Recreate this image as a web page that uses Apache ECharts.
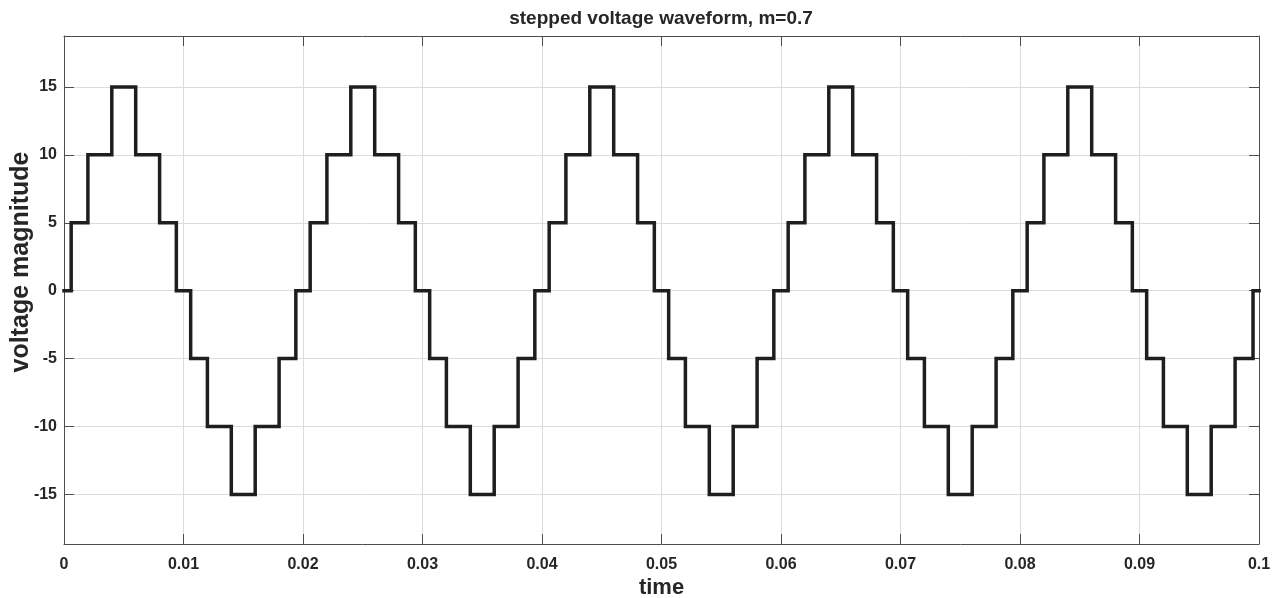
<!DOCTYPE html>
<html>
<head>
<meta charset="utf-8">
<script src="https://cdn.jsdelivr.net/npm/echarts@6/dist/echarts.min.js"></script>
<style>
html,body{margin:0;padding:0;background:#fff;}
#chart{width:1281px;height:598px;}
</style>
</head>
<body>
<div id="chart"></div>
<script>
// Step transition times (s) and the voltage level that starts at each time
const stepTimes = [
  0, 0.0006, 0.002, 0.004, 0.006, 0.008, 0.0094, 0.0106, 0.012, 0.014, 0.016, 0.018, 0.0194,
  0.0206, 0.022, 0.024, 0.026, 0.028, 0.0294, 0.0306, 0.032, 0.034, 0.036, 0.038, 0.0394,
  0.0406, 0.042, 0.044, 0.046, 0.048, 0.0494, 0.0506, 0.052, 0.054, 0.056, 0.058, 0.0594,
  0.0606, 0.062, 0.064, 0.066, 0.068, 0.0694, 0.0706, 0.072, 0.074, 0.076, 0.078, 0.0794,
  0.0806, 0.082, 0.084, 0.086, 0.088, 0.0894, 0.0906, 0.092, 0.094, 0.096, 0.098, 0.0995,
  0.1
];
const stepLevels = [
  0, 5, 10, 15, 10, 5, 0, -5, -10, -15, -10, -5, 0,
  5, 10, 15, 10, 5, 0, -5, -10, -15, -10, -5, 0,
  5, 10, 15, 10, 5, 0, -5, -10, -15, -10, -5, 0,
  5, 10, 15, 10, 5, 0, -5, -10, -15, -10, -5, 0,
  5, 10, 15, 10, 5, 0, -5, -10, -15, -10, -5, 0,
  0
];
const yTicks = [-15, -10, -5, 0, 5, 10, 15];
const xMin = 0, xMax = 0.1, xStep = 0.01;
const yMin = -18.65, yMax = 18.75;

const titleText = 'stepped voltage waveform, m=0.7';
const xName = 'time';
const yName = 'voltage magnitude';

const FONT = '"Liberation Sans", Arial, sans-serif';
const TXT = '#262626';
const AX = '#4d4d4d';
const GRID = '#dcdcdc';

const data = stepTimes.map((t, i) => [t, stepLevels[i]]);

const chart = echarts.init(document.getElementById('chart'), null, {renderer: 'canvas'});
chart.setOption({
  animation: false,
  backgroundColor: '#ffffff',
  title: {
    text: titleText,
    left: 656, top: 4, textAlign: 'center',
    textStyle: {fontFamily: FONT, fontWeight: 'bold', fontSize: 19, color: TXT}
  },
  grid: {left: 64, right: 22, top: 36, bottom: 54, containLabel: false, outerBoundsMode: 'none'},
  xAxis: [{
    type: 'value', min: xMin, max: xMax, interval: xStep, position: 'bottom',
    name: xName, nameLocation: 'middle', nameGap: 33, nameMoveOverlap: false,
    nameTextStyle: {fontFamily: FONT, fontWeight: 'bold', fontSize: 22, color: TXT},
    axisLine: {show: true, onZero: false, lineStyle: {color: AX, width: 1}},
    axisTick: {show: true, inside: true, length: 10, lineStyle: {color: AX}},
    axisLabel: {fontFamily: FONT, fontWeight: 'bold', fontSize: 16, color: TXT, margin: 13,
      formatter: v => String(+v.toFixed(4))},
    splitLine: {show: true, lineStyle: {color: GRID, width: 1}}
  }, {
    type: 'value', min: xMin, max: xMax, interval: xStep, position: 'top',
    axisLine: {show: true, onZero: false, lineStyle: {color: AX, width: 1}},
    axisTick: {show: true, inside: true, length: 10, lineStyle: {color: AX}},
    axisLabel: {show: false}, splitLine: {show: false}
  }],
  yAxis: [{
    type: 'value', min: yMin, max: yMax, position: 'left',
    name: yName, nameLocation: 'middle', nameGap: 30, nameMoveOverlap: false,
    nameTextStyle: {fontFamily: FONT, fontWeight: 'bold', fontSize: 25, color: TXT,
      padding: [0, 0, 0, 56]},
    axisLine: {show: true, onZero: false, lineStyle: {color: AX, width: 1}},
    axisTick: {show: true, inside: true, length: 10, lineStyle: {color: AX}, customValues: yTicks},
    axisLabel: {fontFamily: FONT, fontWeight: 'bold', fontSize: 16, color: TXT, margin: 7, customValues: yTicks},
    splitLine: {show: true, lineStyle: {color: GRID, width: 1}}
  }, {
    type: 'value', min: yMin, max: yMax, position: 'right',
    axisLine: {show: true, onZero: false, lineStyle: {color: AX, width: 1}},
    axisTick: {show: true, inside: true, length: 10, lineStyle: {color: AX}, customValues: yTicks},
    axisLabel: {show: false, customValues: yTicks}, splitLine: {show: false}
  }],
  series: [{
    type: 'line', step: 'end', data: data, xAxisIndex: 0, yAxisIndex: 0,
    showSymbol: false, symbol: 'none',
    lineStyle: {color: '#1e1e1e', width: 3.5, join: 'miter', cap: 'square'}
  }]
});
</script>
</body>
</html>
